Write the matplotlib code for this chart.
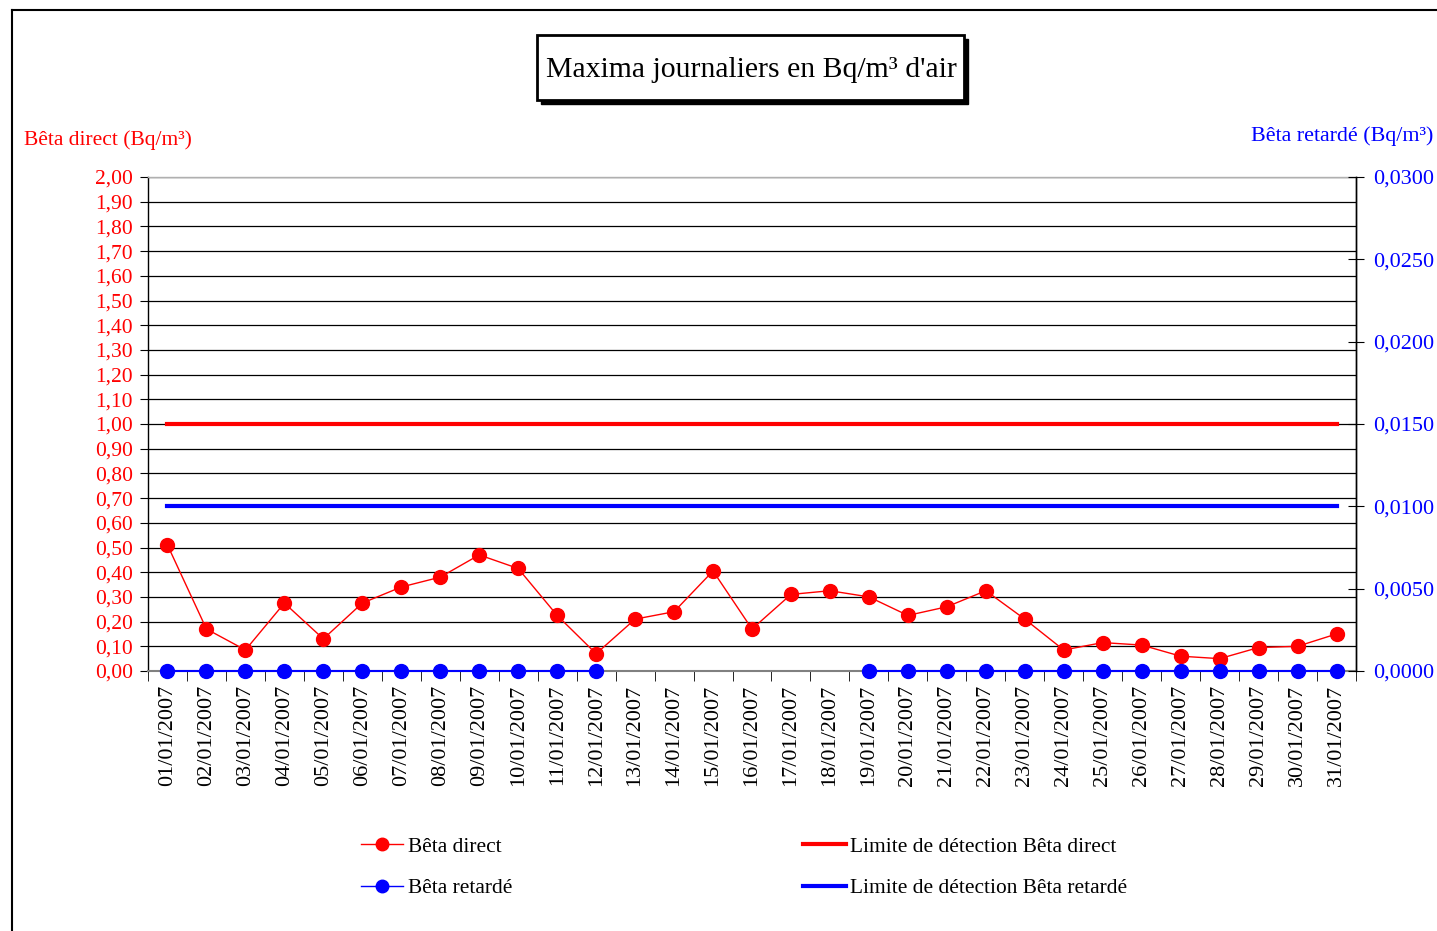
# Maxima journaliers beta direct / beta retarde, janvier 2007
import matplotlib.pyplot as plt
import numpy as np
from matplotlib.lines import Line2D
from matplotlib.patches import Rectangle
from matplotlib.ticker import FuncFormatter, MultipleLocator

plt.rcParams.update(
    {
        "font.family": ["Liberation Serif", "DejaVu Serif"],
        "font.size": 15,
        "axes.linewidth": 1.0,
    }
)

W, H = 1437, 931

jours = [f"{d:02d}/01/2007" for d in range(1, 32)]
beta_direct = [0.51, 0.17, 0.085, 0.275, 0.13, 0.275, 0.34, 0.38, 0.47, 0.415, 0.225,
               0.07, 0.21, 0.24, 0.405, 0.17, 0.31, 0.325, 0.30, 0.225, 0.26, 0.325,
               0.21, 0.085, 0.115, 0.105, 0.06, 0.05, 0.095, 0.10, 0.15]
beta_retarde = [0.0] * 12 + [np.nan] * 6 + [0.0] * 13
limite_direct = [1.00] * 31
limite_retarde = [0.0100] * 31

RED = "#ff0000"
BLUE = "#0000ff"


def px(x0, y0, x1, y1):
    return [x0 / W, 1 - y1 / H, (x1 - x0) / W, (y1 - y0) / H]


fig = plt.figure(figsize=(W / 100, H / 100), dpi=100)

# cadre exterieur (coupe a droite et en bas)
fig.add_artist(Line2D([12 / W, 1], [1 - 10 / H, 1 - 10 / H], color="black", lw=1.5))
fig.add_artist(Line2D([12 / W, 12 / W], [0, 1 - 10 / H], color="black", lw=1.5))

ax = fig.add_axes(px(148, 177, 1356, 671))
x = np.arange(len(jours))

ax.set_xlim(-0.5, len(jours) - 0.5)
ax.set_ylim(0, 2.0)
ax.yaxis.set_major_locator(MultipleLocator(0.1))
ax.yaxis.set_major_formatter(FuncFormatter(lambda v, _: f"{v:.2f}".replace(".", ",")))
ax.tick_params(axis="y", colors="black", labelcolor=RED, length=6, pad=5, labelsize=15.5)
ax.grid(axis="y", color="black", lw=0.9)
ax.set_axisbelow(True)

ax.set_xticks(x, jours, rotation=90, fontsize=16)
ax.tick_params(axis="x", which="major", length=0, pad=10)
ax.set_xticks(np.arange(-0.5, len(jours)), minor=True)
ax.tick_params(axis="x", which="minor", length=7, direction="out", color="black")

ax.spines["top"].set_color("#b0b0b0")
ax.spines["bottom"].set_color("#808080")
ax.spines["bottom"].set_linewidth(1.5)

ax.plot(x, limite_direct, color=RED, lw=3, zorder=3)
ax.plot(x, beta_direct, color=RED, lw=1, marker="o", ms=10, zorder=4)

ax2 = ax.twinx()
ax2.set_ylim(0, 0.03)
ax2.yaxis.set_major_locator(MultipleLocator(0.005))
ax2.yaxis.set_major_formatter(FuncFormatter(lambda v, _: f"{v:.4f}".replace(".", ",")))
ax2.tick_params(axis="y", colors="black", labelcolor=BLUE, length=12, direction="inout",
                pad=6, labelsize=16)
ax2.spines["top"].set_visible(False)
ax2.spines["bottom"].set_visible(False)
ax2.spines["left"].set_visible(False)

ax2.plot(x, limite_retarde, color=BLUE, lw=3, zorder=3)
ax2.plot(x, beta_retarde, color=BLUE, lw=1.5, marker="o", ms=10, zorder=4, clip_on=False)

fig.text(24 / W, 1 - 140 / H, "Bêta direct (Bq/m³)", color=RED, fontsize=15.5,
         ha="left", va="center")
fig.text(1433 / W, 1 - 136 / H, "Bêta retardé (Bq/m³)", color=BLUE, fontsize=15.8,
         ha="right", va="center")

# titre encadre avec ombre
fig.add_artist(Rectangle((541 / W, 1 - 104 / H), 427 / W, 65 / H,
                         transform=fig.transFigure, facecolor="black", edgecolor="black"))
fig.add_artist(Rectangle((537 / W, 1 - 100 / H), 427 / W, 65 / H,
                         transform=fig.transFigure, facecolor="white", edgecolor="black",
                         lw=2))
fig.text(751 / W, 1 - 70 / H, "Maxima journaliers en Bq/m³ d'air", fontsize=21.4,
         ha="center", va="center")

handles = [
    Line2D([], [], color=RED, lw=1, marker="o", ms=9),
    Line2D([], [], color=BLUE, lw=1, marker="o", ms=9),
    Line2D([], [], color=RED, lw=3),
    Line2D([], [], color=BLUE, lw=3),
]
labels = ["Bêta direct", "Bêta retardé", "Limite de détection Bêta direct",
          "Limite de détection Bêta retardé"]
fig.legend(handles, labels, ncols=2, loc="upper left", bbox_to_anchor=(350 / W, 1 - 826 / H),
           frameon=False, fontsize=15.4, handlelength=2.0, handletextpad=0.2,
           columnspacing=13.6, labelspacing=1.0, borderpad=0)

fig.savefig("out.png", dpi=100)
print("ok: out.png")
